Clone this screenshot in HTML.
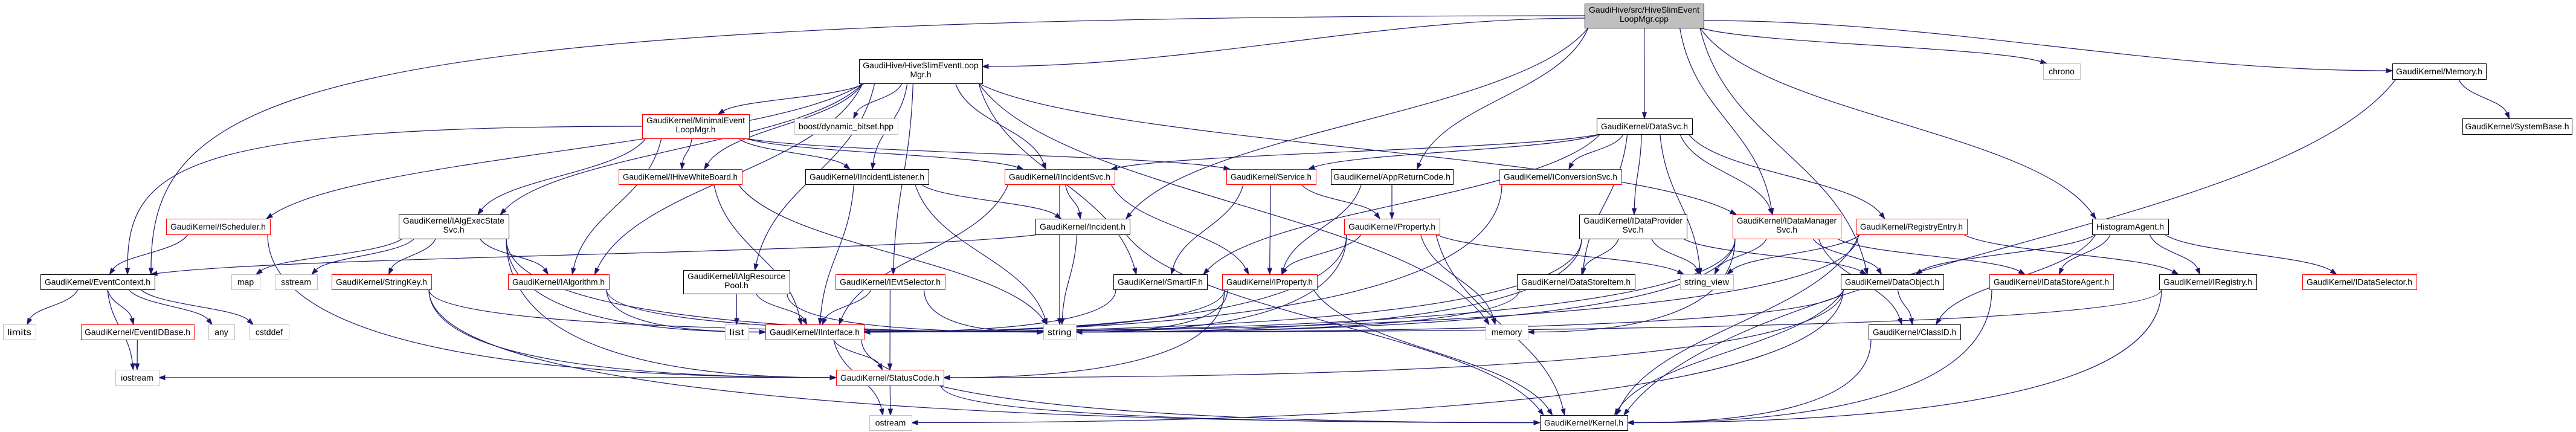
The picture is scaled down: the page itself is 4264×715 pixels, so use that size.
<!DOCTYPE html>
<html><head><meta charset="utf-8">
<style>
html,body{margin:0;padding:0;background:#fff;}
svg{display:block;}
text{font-family:"Liberation Sans",sans-serif;font-size:14px;fill:#000;}
</style></head>
<body>
<svg id="g" xmlns="http://www.w3.org/2000/svg" width="4264" height="715" viewBox="0 0 4264 715">
<g id="edges" fill="none" stroke="#191970" stroke-width="1.2"></g>
<g id="heads" fill="#191970" stroke="#191970" stroke-width="1"></g>
<g id="nodes"></g>
</svg>
<div style="display:none" id="labels">
GaudiHive/src/HiveSlimEventLoopMgr.cpp GaudiHive/HiveSlimEventLoopMgr.h GaudiKernel/MinimalEventLoopMgr.h boost/dynamic_bitset.hpp GaudiKernel/DataSvc.h chrono GaudiKernel/Memory.h GaudiKernel/SystemBase.h GaudiKernel/IHiveWhiteBoard.h GaudiKernel/IIncidentListener.h GaudiKernel/IIncidentSvc.h GaudiKernel/Service.h GaudiKernel/AppReturnCode.h GaudiKernel/IConversionSvc.h GaudiKernel/IScheduler.h GaudiKernel/IAlgExecStateSvc.h GaudiKernel/Incident.h GaudiKernel/Property.h GaudiKernel/IDataProviderSvc.h GaudiKernel/IDataManagerSvc.h GaudiKernel/RegistryEntry.h HistogramAgent.h GaudiKernel/EventContext.h map sstream GaudiKernel/StringKey.h GaudiKernel/IAlgorithm.h GaudiKernel/IAlgResourcePool.h GaudiKernel/IEvtSelector.h GaudiKernel/SmartIF.h GaudiKernel/IProperty.h GaudiKernel/DataStoreItem.h string_view GaudiKernel/DataObject.h GaudiKernel/IDataStoreAgent.h GaudiKernel/IRegistry.h GaudiKernel/IDataSelector.h limits GaudiKernel/EventIDBase.h any cstddef list GaudiKernel/IInterface.h string memory GaudiKernel/ClassID.h iostream GaudiKernel/StatusCode.h ostream GaudiKernel/Kernel.h
</div>
<script>
var N={
TOP:[2623,2820,6,46,'t',['GaudiHive/src/HiveSlimEvent','LoopMgr.cpp']],
HSL:[1422,1626,98,138,'b',['GaudiHive/HiveSlimEventLoop','Mgr.h']],
MIN:[1063,1240,189,229,'r',['GaudiKernel/MinimalEvent','LoopMgr.h']],
BOOST:[1315,1486,196,222,'g',['boost/dynamic_bitset.hpp']],
DATASVC:[2643,2801,196,222,'b',['GaudiKernel/DataSvc.h']],
CHRONO:[3382,3443,105,131,'g',['chrono']],
MEMORYH:[3960,4115,105,131,'b',['GaudiKernel/Memory.h']],
SYSBASE:[4076,4257,196,222,'b',['GaudiKernel/SystemBase.h']],
IHWB:[1024,1228,280,305,'r',['GaudiKernel/IHiveWhiteBoard.h']],
IIL:[1333,1537,280,305,'b',['GaudiKernel/IIncidentListener.h']],
IISVC:[1663,1845,280,305,'r',['GaudiKernel/IIncidentSvc.h']],
SERVICE:[2030,2178,280,305,'r',['GaudiKernel/Service.h']],
APPRC:[2203,2405,280,305,'b',['GaudiKernel/AppReturnCode.h']],
ICONV:[2482,2684,280,305,'r',['GaudiKernel/IConversionSvc.h']],
ISCHED:[275,447,362,388,'r',['GaudiKernel/IScheduler.h']],
IAES:[660,842,355,395,'b',['GaudiKernel/IAlgExecState','Svc.h']],
INCIDENT:[1714,1870,362,388,'b',['GaudiKernel/Incident.h']],
PROPERTY:[2225,2383,362,388,'r',['GaudiKernel/Property.h']],
IDPS:[2614,2792,355,395,'b',['GaudiKernel/IDataProvider','Svc.h']],
IDMS:[2868,3047,355,395,'r',['GaudiKernel/IDataManager','Svc.h']],
REGENTRY:[3072,3256,362,388,'r',['GaudiKernel/RegistryEntry.h']],
HISTAG:[3463,3589,362,388,'b',['HistogramAgent.h']],
EVCTX:[67,256,454,479,'b',['GaudiKernel/EventContext.h']],
MAP:[383,430,454,479,'g',['map']],
SSTREAM:[455,525,454,479,'g',['sstream']],
STRKEY:[549,714,454,479,'r',['GaudiKernel/StringKey.h']],
IALG:[841,1008,454,479,'r',['GaudiKernel/IAlgorithm.h']],
IARP:[1131,1307,447,486,'b',['GaudiKernel/IAlgResource','Pool.h']],
IEVTSEL:[1383,1564,454,479,'r',['GaudiKernel/IEvtSelector.h']],
SMARTIF:[1843,1998,454,479,'b',['GaudiKernel/SmartIF.h']],
IPROP:[2023,2180,454,479,'r',['GaudiKernel/IProperty.h']],
DSI:[2511,2706,454,479,'b',['GaudiKernel/DataStoreItem.h']],
STRVIEW:[2781,2869,454,479,'g',['string_view']],
DATAOBJ:[3047,3217,454,479,'b',['GaudiKernel/DataObject.h']],
IDSA:[3293,3498,454,479,'r',['GaudiKernel/IDataStoreAgent.h']],
IREG:[3574,3735,454,479,'b',['GaudiKernel/IRegistry.h']],
IDSEL:[3811,4000,454,479,'r',['GaudiKernel/IDataSelector.h']],
LIMITS:[5,59,537,562,'g',['limits']],
EVIDB:[134,321,537,562,'r',['GaudiKernel/EventIDBase.h']],
ANY:[345,388,537,562,'g',['any']],
CSTDDEF:[413,478,537,562,'g',['cstddef']],
LIST:[1200,1239,537,562,'g',['list']],
IINTF:[1267,1430,537,562,'r',['GaudiKernel/IInterface.h']],
STRING:[1727,1781,537,562,'g',['string']],
MEMORY:[2459,2529,537,562,'g',['memory']],
CLASSID:[3093,3245,537,562,'b',['GaudiKernel/ClassID.h']],
IOSTREAM:[191,263,612,638,'g',['iostream']],
STATUSCODE:[1384,1562,612,638,'r',['GaudiKernel/StatusCode.h']],
OSTREAM:[1439,1509,687,712,'g',['ostream']],
KERNEL:[2549,2694,687,712,'b',['GaudiKernel/Kernel.h']]
};
var E=[
['TOP','HSL'],['TOP','EVCTX'],['TOP','DATASVC'],['TOP','APPRC'],['TOP','INCIDENT'],['TOP','IDMS'],['TOP','DATAOBJ'],['TOP','CHRONO'],['TOP','HISTAG'],['TOP','MEMORYH'],
['HSL','MIN'],['HSL','BOOST'],['HSL','IIL'],['HSL','IISVC'],['HSL','IHWB'],['HSL','IAES'],['HSL','ISCHED'],['HSL','IARP'],['HSL','IEVTSEL'],['HSL','SMARTIF'],['HSL','MEMORY'],['HSL','IDMS'],['HSL','IALG'],
['MIN','IHWB'],['MIN','IIL'],['MIN','IISVC'],['MIN','SERVICE'],['MIN','EVCTX'],['MIN','IAES'],['MIN','IALG'],
['DATASVC','IISVC'],['DATASVC','SERVICE'],['DATASVC','ICONV'],['DATASVC','IDPS'],['DATASVC','IDMS'],['DATASVC','REGENTRY'],['DATASVC','STRVIEW'],['DATASVC','DSI'],['DATASVC','SMARTIF'],
['APPRC','PROPERTY'],['APPRC','IPROP'],
['SERVICE','PROPERTY'],['SERVICE','IPROP'],['SERVICE','SMARTIF'],
['IISVC','INCIDENT'],['IISVC','STRING'],['IISVC','IINTF'],['IISVC','IPROP'],
['IIL','INCIDENT'],['IIL','STRING'],['IIL','IINTF'],
['IHWB','IINTF'],['IHWB','STRING'],
['INCIDENT','STRING'],['INCIDENT','KERNEL'],['INCIDENT','EVCTX'],
['IAES','MAP'],['IAES','SSTREAM'],['IAES','STRKEY'],['IAES','IALG'],['IAES','IINTF'],['IAES','STATUSCODE'],['IAES','STRING'],
['ISCHED','EVCTX'],['ISCHED','STATUSCODE'],
['EVCTX','LIMITS'],['EVCTX','EVIDB'],['EVCTX','ANY'],['EVCTX','CSTDDEF'],['EVCTX','IOSTREAM'],
['EVIDB','IOSTREAM'],
['STRKEY','STRING'],['STRKEY','STATUSCODE'],['STRKEY','KERNEL'],
['IALG','STRING'],['IALG','IINTF'],
['IARP','LIST'],['IARP','IINTF'],['IARP','STRING'],
['IEVTSEL','IINTF'],['IEVTSEL','STATUSCODE'],['IEVTSEL','STRING'],
['SMARTIF','IINTF'],
['IPROP','IINTF'],['IPROP','STRING'],['IPROP','STATUSCODE'],['IPROP','KERNEL'],
['PROPERTY','IPROP'],['PROPERTY','STRVIEW'],['PROPERTY','KERNEL'],['PROPERTY','MEMORY'],['PROPERTY','IINTF'],['PROPERTY','STRING'],
['IDPS','DSI'],['IDPS','STRVIEW'],['IDPS','DATAOBJ'],['IDPS','IINTF'],['IDPS','STRING'],
['ICONV','IINTF'],['DSI','STRING'],
['IDMS','STRVIEW'],['IDMS','DATAOBJ'],['IDMS','CLASSID'],['IDMS','IDSA'],['IDMS','IINTF'],['IDMS','STRING'],['IDMS','MEMORY'],
['REGENTRY','STRVIEW'],['REGENTRY','IREG'],['REGENTRY','KERNEL'],['REGENTRY','IINTF'],
['HISTAG','DATAOBJ'],['HISTAG','IDSA'],['HISTAG','IREG'],['HISTAG','IDSEL'],['HISTAG','CLASSID'],
['DATAOBJ','CLASSID'],['DATAOBJ','STRING'],['DATAOBJ','KERNEL'],['DATAOBJ','STATUSCODE'],['DATAOBJ','OSTREAM'],
['CLASSID','KERNEL'],['IDSA','KERNEL'],['IREG','STRING'],['IREG','KERNEL'],
['IINTF','STATUSCODE'],['IINTF','OSTREAM'],['IINTF','KERNEL'],
['STATUSCODE','OSTREAM'],['STATUSCODE','KERNEL'],['STATUSCODE','IOSTREAM'],
['MEMORYH','SYSBASE'],['MEMORYH','KERNEL']
];
var SIDE={STRING:1,IINTF:1,STATUSCODE:1,KERNEL:1,MEMORY:1,OSTREAM:1,IOSTREAM:1,CLASSID:1};
var FAR={'TOP>EVCTX':1,'MIN>EVCTX':1};
var NS='http://www.w3.org/2000/svg';
function el(t,a,p){var e=document.createElementNS(NS,t);for(var k in a)e.setAttribute(k,a[k]);p.appendChild(e);return e;}
var gE=document.getElementById('edges'),gH=document.getElementById('heads'),gN=document.getElementById('nodes');
function clamp(v,a,b){return Math.max(a,Math.min(b,v));}
E.forEach(function(e){
 var s=N[e[0]],t=N[e[1]];
 var scx=(s[0]+s[1])/2,tcx=(t[0]+t[1])/2,scy=(s[2]+s[3])/2,tcy=(t[2]+t[3])/2;
 var dx=tcx-scx,dy=t[2]-s[3];
 var sx,sy,ex,ey,c1x,c1y,c2x,c2y;
 var key=e[0]+'>'+e[1];
 var side=SIDE[e[1]]&&(Math.abs(dx)>3.2*Math.max(dy,1))&&(Math.abs(dx)>(t[1]-t[0])/2+40);
 if(key=='TOP>HSL'||key=='TOP>MEMORYH'){
   sx=dx<0?s[0]:s[1];sy=scy+(dx<0?4:8);ex=dx<0?t[1]:t[0];ey=t[2]+12;
   c1x=sx+(ex-sx)*0.35;c1y=sy;c2x=ex-(ex-sx)*0.35;c2y=ey;
 } else if(dy<5){
   if(dx<0){sx=s[0];ex=t[1];}else{sx=s[1];ex=t[0];}
   sy=scy;ey=tcy;c1x=sx+(ex-sx)*0.35;c1y=sy;c2x=ex-(ex-sx)*0.35;c2y=ey;
 } else if(side){
   sx=clamp(scx+dx*0.2,s[0]+4,s[1]-4);sy=s[3];
   if(dx<0){ex=t[1];}else{ex=t[0];}ey=tcy;
   c1x=sx;c1y=sy+(ey-sy)*0.8;c2x=sx+(ex-sx)*0.5;c2y=ey;
 } else if(FAR[key]){
   sx=dx<0?s[0]:s[1];sy=scy;
   ex=clamp(tcx-dx*0.05,t[0]+6,t[1]-6);ey=t[2];
   c1x=sx+(ex-sx)*0.9;c1y=sy;c2x=ex;c2y=sy+(ey-sy)*0.3;
 } else {
   sx=clamp(scx+dx*0.25,s[0]+6,s[1]-6);sy=s[3];
   ex=clamp(tcx-dx*0.1,t[0]+6,t[1]-6);ey=t[2];
   c1x=sx+(ex-sx)*0.15;c1y=sy+(ey-sy)*0.45;c2x=ex-(ex-sx)*0.15;c2y=ey-(ey-sy)*0.45;
 }
 var vx=ex-c2x,vy=ey-c2y,L=Math.sqrt(vx*vx+vy*vy)||1;vx/=L;vy/=L;
 var bx=ex-vx*10,by=ey-vy*10;
 el('path',{d:'M'+sx+','+sy+' C'+c1x+','+c1y+' '+(c2x-vx*3)+','+(c2y-vy*3)+' '+bx+','+by},gE);
 var px=-vy,py=vx;
 el('polygon',{points:ex+','+ey+' '+(bx+px*3.5)+','+(by+py*3.5)+' '+(bx-px*3.5)+','+(by-py*3.5)},gH);
});
for(var k in N){
 var n=N[k],w=n[1]-n[0],h=n[3]-n[2];
 var st={t:'#000',b:'#000',r:'#ff0000',g:'#bfbfbf'}[n[4]];
 el('rect',{x:n[0]+0.5,y:n[2]+0.5,width:w,height:h,fill:n[4]=='t'?'#bfbfbf':'#fff',stroke:st,'stroke-width':1},gN);
 var lines=n[5];
 for(var i=0;i<lines.length;i++){
  var ty=lines.length==1?(n[2]+n[3])/2+5:n[2]+15+i*15;
  var tx=(n[0]+n[1])/2;
  var est=lines[i].length*6.9;
  var a={x:tx,y:ty,'text-anchor':'middle'};
  if(est>w-14){a.textLength=w-14;a.lengthAdjust='spacingAndGlyphs';}
  var te=el('text',a,gN);te.textContent=lines[i];
 }
}
</script>
</body></html>
